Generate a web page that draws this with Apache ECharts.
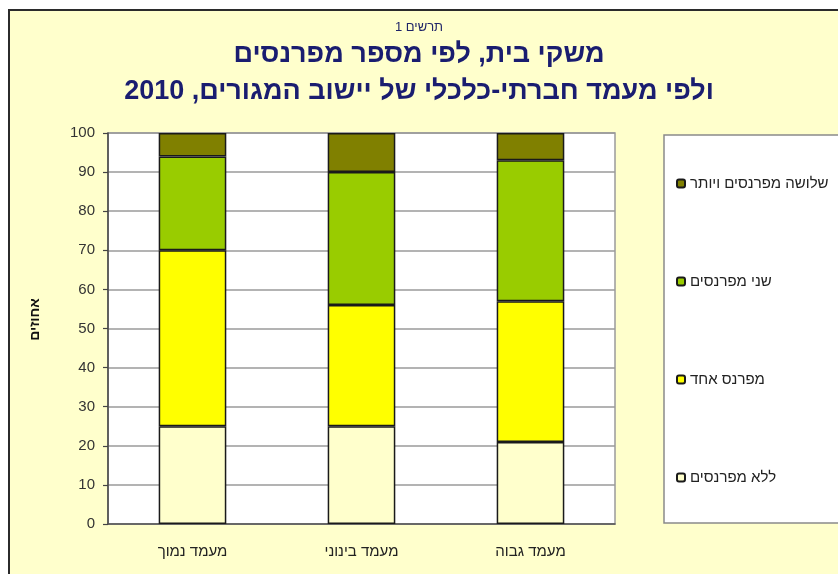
<!DOCTYPE html>
<html>
<head>
<meta charset="utf-8">
<script src="https://cdn.jsdelivr.net/npm/echarts@6/dist/echarts.min.js"></script>
<style>
html,body{margin:0;padding:0;background:#fff;}
#chart{width:838px;height:574px;}
</style>
</head>
<body>
<div id="chart"></div>
<script>
const categories = ['מעמד נמוך', 'מעמד בינוני', 'מעמד גבוה'];
const seriesNames = ['ללא מפרנסים', 'מפרנס אחד', 'שני מפרנסים', 'שלושה מפרנסים ויותר'];
const noEarner = [25, 25, 21];
const oneEarner = [45, 31, 36];
const twoEarners = [24, 34, 36];
const threePlus = [6, 10, 7];
const yTicks = { min: 0, max: 100, interval: 10 };
const titleLines = ['משקי בית, לפי מספר מפרנסים', 'ולפי מעמד חברתי-כלכלי של יישוב המגורים, 2010'];
const colors = ['#FFFFCC', '#FFFF00', '#99CC00', '#808000'];
const values = [noEarner, oneEarner, twoEarners, threePlus];

const chart = echarts.init(document.getElementById('chart'), null, { renderer: 'canvas' });
const font = 'Arial, "Liberation Sans", "DejaVu Sans", sans-serif';
const mainTitleStyle = { fontFamily: font, fontSize: 27, fontWeight: 'bold', color: '#1A1D70' };

chart.setOption({
  backgroundColor: '#ffffff',
  animation: false,
  textStyle: { fontFamily: font },
  graphic: [
    { type: 'rect', z: -10, silent: true,
      shape: { x: 9, y: 10, width: 840, height: 580 },
      style: { fill: '#FFFFCC', stroke: '#2b2b2b', lineWidth: 2 } },
    { type: 'rect', z: -5, silent: true,
      shape: { x: 664, y: 135, width: 190, height: 388 },
      style: { fill: '#ffffff', stroke: '#8a8a8a', lineWidth: 1.5 } }
  ],
  title: [
    { text: 'תרשים 1', left: 'center', top: 16,
      textStyle: { fontFamily: font, fontSize: 13, fontWeight: 'normal', color: '#1F2468' } },
    { text: titleLines[0], left: 'center', top: 36, textStyle: mainTitleStyle },
    { text: titleLines[1], left: 'center', top: 73, textStyle: mainTitleStyle }
  ],
  legend: {
    orient: 'vertical',
    left: 671,
    top: 171,
    itemWidth: 8,
    itemHeight: 8,
    itemGap: 83,
    data: seriesNames.slice().reverse(),
    textStyle: { fontFamily: font, fontSize: 15, color: '#222', lineHeight: 15 }
  },
  grid: { left: 108, right: 223, top: 133, bottom: 50, show: true, backgroundColor: '#ffffff', borderColor: '#9a9a9a', borderWidth: 1.5, containLabel: false },
  xAxis: {
    type: 'category',
    data: categories,
    axisLine: { lineStyle: { color: '#555', width: 1.5 } },
    axisTick: { show: false },
    axisLabel: { fontFamily: font, fontSize: 15, color: '#222', margin: 20 }
  },
  yAxis: {
    type: 'value',
    min: yTicks.min, max: yTicks.max, interval: yTicks.interval,
    name: 'אחוזים',
    nameLocation: 'middle',
    nameRotate: 90,
    nameGap: 66,
    nameTextStyle: { fontFamily: font, fontSize: 14, fontWeight: 'bold', color: '#111', padding: [0, 0, 0, 18] },
    axisLine: { show: true, lineStyle: { color: '#444', width: 1.5 } },
    axisTick: { show: true, length: 5, lineStyle: { color: '#444', width: 1.2 } },
    axisLabel: { fontFamily: font, fontSize: 15, color: '#333', margin: 13 },
    splitLine: { lineStyle: { color: '#9a9a9a', width: 1.5 } }
  },
  series: seriesNames.map((name, i) => ({
    name: name,
    type: 'bar',
    stack: 'total',
    barWidth: '40%',
    data: values[i],
    itemStyle: { color: colors[i], borderColor: '#1a1a1a', borderWidth: 1.5 }
  }))
});
</script>
</body>
</html>
